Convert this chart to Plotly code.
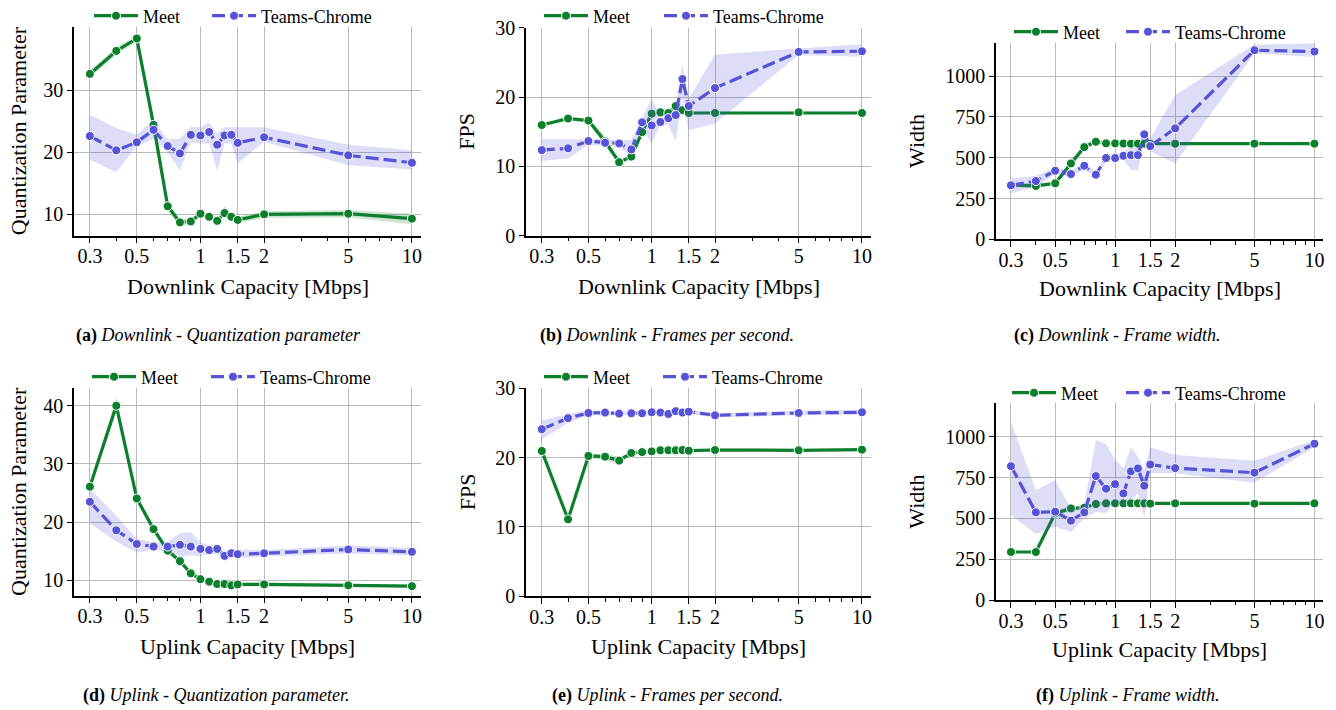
import plotly.graph_objects as go

# ---------------- data ----------------
CAPACITY = [0.3, 0.4, 0.5, 0.6, 0.7, 0.8, 0.9, 1.0, 1.1, 1.2, 1.3, 1.4, 1.5, 2, 5, 10]
X_TICKS = [0.3, 0.5, 1, 1.5, 2, 5, 10]
X_TICK_TEXT = ["0.3", "0.5", "1", "1.5", "2", "5", "10"]
X_MINOR = [0.4, 0.6, 0.7, 0.8, 0.9, 3, 4, 6, 7, 8, 9]
SERIES = ["Meet", "Teams-Chrome"]

# (a) Downlink - QP
DL_QP_MEET = [32.6, 36.3, 38.3, 24.4, 11.3, 8.7, 8.85, 10.1, 9.6, 8.95, 10.2, 9.6, 9.1, 10.0, 10.1, 9.3]
DL_QP_MEET_LO = [32.0, 35.7, 37.8, 22.6, 10.5, 8.2, 8.4, 9.7, 9.1, 8.6, 9.6, 9.1, 8.6, 9.4, 9.5, 8.4]
DL_QP_MEET_HI = [33.2, 36.9, 38.8, 25.8, 12.2, 9.2, 9.3, 10.5, 10.1, 9.3, 11.3, 10.1, 9.6, 10.5, 10.7, 10.1]
DL_QP_TEAMS = [22.6, 20.3, 21.6, 23.6, 21.0, 19.8, 22.8, 22.7, 23.25, 21.2, 22.7, 22.8, 21.5, 22.4, 19.5, 18.3]
DL_QP_TEAMS_LO = [18.8, 16.8, 20.9, 22.2, 20.0, 17.0, 21.7, 21.4, 21.4, 17.0, 21.4, 21.4, 18.2, 21.7, 17.9, 17.2]
DL_QP_TEAMS_HI = [26.0, 23.9, 22.8, 25.2, 22.0, 22.2, 24.1, 24.0, 24.8, 23.0, 24.0, 24.0, 24.0, 24.0, 21.2, 20.3]

# (b) Downlink - FPS
DL_FPS_MEET = [15.96, 16.9, 16.6, 13.6, 10.6, 11.4, 14.95, 17.6, 17.8, 17.7, 18.7, 18.1, 17.7, 17.7, 17.8, 17.7]
DL_FPS_MEET_LO = [15.7, 16.6, 16.3, 12.9, 10.3, 11.1, 14.6, 17.3, 17.5, 17.4, 18.3, 17.8, 17.5, 17.5, 17.6, 17.5]
DL_FPS_MEET_HI = [16.2, 17.2, 16.9, 14.4, 10.9, 11.7, 15.3, 17.9, 18.1, 18.0, 19.1, 18.4, 17.9, 17.9, 18.0, 17.9]
DL_FPS_TEAMS = [12.35, 12.6, 13.65, 13.4, 13.3, 12.45, 16.35, 15.9, 16.4, 16.95, 17.4, 22.6, 18.7, 21.3, 26.5, 26.6]
DL_FPS_TEAMS_LO = [10.8, 11.15, 13.1, 13.0, 12.8, 11.4, 15.5, 13.3, 16.0, 16.0, 13.6, 20.0, 15.2, 16.2, 26.05, 25.8]
DL_FPS_TEAMS_HI = [13.9, 13.9, 14.0, 13.9, 13.8, 13.8, 17.0, 19.8, 17.2, 17.8, 18.0, 24.7, 19.8, 26.1, 27.0, 27.6]

# (c) Downlink - Width
DL_W_MEET = [333, 327, 343, 465, 565, 598, 588, 588, 587, 586, 586, 586, 586, 586, 586, 586]
DL_W_MEET_LO = [318, 315, 330, 440, 545, 588, 578, 578, 578, 578, 578, 578, 578, 578, 578, 578]
DL_W_MEET_HI = [348, 340, 356, 490, 585, 608, 596, 596, 596, 594, 594, 594, 594, 594, 594, 594]
DL_W_TEAMS = [331, 357, 420, 400, 451, 396, 498, 498, 512, 516, 516, 643, 571, 680, 1159, 1151]
DL_W_TEAMS_LO = [282, 320, 400, 380, 430, 380, 470, 480, 490, 423, 423, 600, 540, 465, 1139, 1118]
DL_W_TEAMS_HI = [373, 390, 440, 420, 470, 410, 530, 520, 540, 560, 560, 680, 620, 884, 1194, 1200]

# (d) Uplink - QP
UL_QP_MEET = [26.1, 40.0, 24.06, 18.8, 15.1, 13.3, 11.2, 10.2, 9.77, 9.37, 9.37, 9.14, 9.3, 9.3, 9.14, 9.0]
UL_QP_MEET_LO = [25.6, 39.0, 23.5, 18.3, 14.7, 12.9, 10.9, 9.9, 9.5, 9.1, 9.1, 8.9, 9.0, 9.0, 8.9, 8.8]
UL_QP_MEET_HI = [26.6, 41.5, 24.6, 19.3, 15.5, 13.7, 11.5, 10.5, 10.0, 9.6, 9.6, 9.4, 9.6, 9.6, 9.4, 9.2]
UL_QP_TEAMS = [23.5, 18.6, 16.25, 15.8, 15.8, 16.1, 15.8, 15.4, 15.2, 15.4, 14.2, 14.65, 14.5, 14.65, 15.3, 14.9]
UL_QP_TEAMS_LO = [19.8, 16.65, 14.8, 15.2, 15.0, 14.1, 14.3, 14.2, 14.6, 14.5, 13.6, 14.0, 13.8, 14.1, 14.6, 14.3]
UL_QP_TEAMS_HI = [25.8, 21.1, 17.2, 16.5, 16.6, 18.1, 18.3, 16.5, 16.0, 16.3, 15.0, 15.5, 15.3, 15.2, 16.0, 15.6]

# (e) Uplink - FPS
UL_FPS_MEET = [20.96, 11.1, 20.24, 20.14, 19.57, 20.67, 20.8, 20.9, 21.06, 21.06, 21.06, 21.1, 21.0, 21.1, 21.06, 21.15]
UL_FPS_MEET_LO = [20.76, 10.8, 20.0, 19.6, 19.0, 20.45, 20.6, 20.7, 20.86, 20.86, 20.86, 20.9, 20.8, 20.9, 20.86, 20.95]
UL_FPS_MEET_HI = [21.16, 11.4, 20.45, 20.6, 20.1, 20.87, 21.0, 21.1, 21.26, 21.26, 21.26, 21.3, 21.2, 21.3, 21.26, 21.35]
UL_FPS_TEAMS = [24.1, 25.7, 26.44, 26.5, 26.35, 26.4, 26.4, 26.54, 26.5, 26.3, 26.7, 26.5, 26.63, 26.1, 26.44, 26.54]
UL_FPS_TEAMS_LO = [22.6, 25.0, 26.1, 26.2, 26.1, 26.1, 26.1, 26.2, 26.2, 26.0, 26.4, 26.2, 26.3, 25.8, 26.1, 26.2]
UL_FPS_TEAMS_HI = [25.4, 26.3, 26.8, 26.8, 26.6, 26.7, 26.7, 26.8, 26.8, 26.6, 27.0, 26.8, 26.9, 26.4, 26.8, 26.9]

# (f) Uplink - Width
UL_W_MEET = [294, 294, 531, 561, 565, 588, 592, 592, 592, 592, 592, 592, 590, 592, 590, 592]
UL_W_MEET_LO = [288, 288, 505, 545, 555, 580, 586, 586, 586, 586, 586, 586, 584, 586, 584, 586]
UL_W_MEET_HI = [300, 300, 550, 575, 575, 595, 598, 598, 598, 598, 598, 598, 596, 598, 596, 598]
UL_W_TEAMS = [820, 537, 541, 486, 537, 759, 682, 710, 653, 788, 806, 700, 830, 808, 780, 957]
UL_W_TEAMS_LO = [520, 404, 449, 418, 500, 541, 531, 600, 571, 612, 653, 510, 776, 776, 718, 935]
UL_W_TEAMS_HI = [1092, 673, 735, 560, 580, 980, 955, 857, 806, 935, 878, 796, 935, 888, 853, 980]

Y_TICKS_QP_DL = [10, 20, 30]
Y_TICKS_QP_UL = [10, 20, 30, 40]
Y_TICKS_FPS = [0, 10, 20, 30]
Y_TICKS_W = [0, 250, 500, 750, 1000]

CAPTIONS = [
    ("(a)", "Downlink - Quantization parameter"),
    ("(b)", "Downlink - Frames per second."),
    ("(c)", "Downlink - Frame width."),
    ("(d)", "Uplink - Quantization parameter."),
    ("(e)", "Uplink - Frames per second."),
    ("(f)", "Uplink - Frame width."),
]

# ---------------- styling / layout ----------------
W, H = 1336, 710
GREEN = "#0b7f2b"
BLUE = "#5753d6"
GREEN_BAND = "rgba(11,127,43,0.2)"
BLUE_BAND = "rgba(87,83,214,0.2)"
FONT = "Liberation Serif, serif"
TICK_SIZE = 20
TITLE_SIZE = 22
LEGEND_SIZE = 18


def fx(p):
    return p / W


def fy(p):
    return 1 - p / H


panels = [
    dict(meet=(DL_QP_MEET, DL_QP_MEET_LO, DL_QP_MEET_HI), teams=(DL_QP_TEAMS, DL_QP_TEAMS_LO, DL_QP_TEAMS_HI),
         px=(74, 421), py=(26.7, 235.7), yr=[6.56, 40.2], yt=Y_TICKS_QP_DL, ytitle="Quantization Parameter",
         xtitle="Downlink Capacity [Mbps]", ytx=18, xty=286, leg=(95, 213, 16), cap=(218, 335)),
    dict(meet=(DL_FPS_MEET, DL_FPS_MEET_LO, DL_FPS_MEET_HI), teams=(DL_FPS_TEAMS, DL_FPS_TEAMS_LO, DL_FPS_TEAMS_HI),
         px=(526, 871), py=(27.7, 235.7), yr=[0, 30], yt=Y_TICKS_FPS, ytitle="FPS",
         xtitle="Downlink Capacity [Mbps]", ytx=467, xty=286, leg=(545, 665, 16), cap=(667, 335)),
    dict(meet=(DL_W_MEET, DL_W_MEET_LO, DL_W_MEET_HI), teams=(DL_W_TEAMS, DL_W_TEAMS_LO, DL_W_TEAMS_HI),
         px=(996, 1323), py=(42.7, 239.3), yr=[0, 1205], yt=Y_TICKS_W, ytitle="Width",
         xtitle="Downlink Capacity [Mbps]", ytx=917, xty=288, leg=(1015, 1127, 32), cap=(1117, 335)),
    dict(meet=(UL_QP_MEET, UL_QP_MEET_LO, UL_QP_MEET_HI), teams=(UL_QP_TEAMS, UL_QP_TEAMS_LO, UL_QP_TEAMS_HI),
         px=(74, 421), py=(388.3, 595.7), yr=[7.36, 43.0], yt=Y_TICKS_QP_UL, ytitle="Quantization Parameter",
         xtitle="Uplink Capacity [Mbps]", ytx=18, xty=646, leg=(93, 212, 377), cap=(216, 695)),
    dict(meet=(UL_FPS_MEET, UL_FPS_MEET_LO, UL_FPS_MEET_HI), teams=(UL_FPS_TEAMS, UL_FPS_TEAMS_LO, UL_FPS_TEAMS_HI),
         px=(526, 871), py=(388.3, 596.3), yr=[0, 30], yt=Y_TICKS_FPS, ytitle="FPS",
         xtitle="Uplink Capacity [Mbps]", ytx=467, xty=646, leg=(545, 664, 377), cap=(667, 695)),
    dict(meet=(UL_W_MEET, UL_W_MEET_LO, UL_W_MEET_HI), teams=(UL_W_TEAMS, UL_W_TEAMS_LO, UL_W_TEAMS_HI),
         px=(996, 1323), py=(403.3, 600), yr=[0, 1205], yt=Y_TICKS_W, ytitle="Width",
         xtitle="Uplink Capacity [Mbps]", ytx=917, xty=649, leg=(1013, 1127, 393), cap=(1127, 695)),
]

fig = go.Figure()
annotations = []
layout = dict(
    width=W, height=H, margin=dict(l=0, r=0, t=0, b=0, autoexpand=False),
    paper_bgcolor="white", plot_bgcolor="white",
    font=dict(family=FONT, size=TICK_SIZE, color="black"),
    showlegend=True,
)

for i, p in enumerate(panels):
    n = i + 1
    sfx = "" if n == 1 else str(n)
    xa, ya = "x" + sfx, "y" + sfx
    for k, (name, (mean, lo, hi), col, band, dash) in enumerate((
        (SERIES[0], p["meet"], GREEN, GREEN_BAND, "solid"),
        (SERIES[1], p["teams"], BLUE, BLUE_BAND, "13px,5px"),
    )):
        li = 2 * i + k + 1
        leg = "legend" if li == 1 else "legend" + str(li)
        fig.add_trace(go.Scatter(
            x=CAPACITY + CAPACITY[::-1], y=hi + lo[::-1], fill="toself", fillcolor=band,
            line=dict(width=0), mode="lines", hoverinfo="skip", showlegend=False,
            xaxis=xa, yaxis=ya))
        fig.add_trace(go.Scatter(
            x=CAPACITY, y=mean, name=name, mode="lines+markers",
            line=dict(color=col, width=3.2, dash=dash),
            marker=dict(size=9, color=col, line=dict(color="white", width=1)),
            legend=leg, xaxis=xa, yaxis=ya))
        layout[leg] = dict(
            orientation="h", x=fx(p["leg"][k] - 6), xanchor="left", y=fy(p["leg"][2]), yanchor="middle",
            bgcolor="rgba(0,0,0,0)", font=dict(family=FONT, size=LEGEND_SIZE), itemwidth=44,
        )

    layout["xaxis" + sfx] = dict(
        type="log", domain=[fx(p["px"][0]), fx(p["px"][1])], range=[-0.598, 1.043],
        anchor=ya, tickvals=X_TICKS, ticktext=X_TICK_TEXT, ticks="outside", ticklen=6,
        tickwidth=1.2, tickcolor="black", showline=True, linecolor="black", linewidth=1.5,
        showgrid=True, gridcolor="#b9b9b9", gridwidth=1, zeroline=False, automargin=False,
        tickfont=dict(family=FONT, size=TICK_SIZE), ticklabelstandoff=-4,
        minor=dict(tickvals=X_MINOR, ticks="outside", ticklen=3.5, tickwidth=1, tickcolor="black", showgrid=False),
    )
    layout["yaxis" + sfx] = dict(
        domain=[fy(p["py"][1]), fy(p["py"][0])], range=p["yr"], anchor=xa,
        tickvals=p["yt"], ticks="outside", ticklen=5, tickwidth=1.2, tickcolor="black",
        showline=True, linecolor="black", linewidth=1.5, showgrid=True, gridcolor="#b9b9b9",
        gridwidth=1, zeroline=False, automargin=False, tickfont=dict(family=FONT, size=TICK_SIZE),
    )
    annotations.append(dict(
        text=p["xtitle"], x=fx((p["px"][0] + p["px"][1]) / 2), y=fy(p["xty"]), xref="paper", yref="paper",
        xanchor="center", yanchor="middle", showarrow=False, font=dict(family=FONT, size=TITLE_SIZE)))
    annotations.append(dict(
        text=p["ytitle"], x=fx(p["ytx"]), y=fy((p["py"][0] + p["py"][1]) / 2), xref="paper", yref="paper",
        xanchor="center", yanchor="middle", textangle=-90, showarrow=False, font=dict(family=FONT, size=TITLE_SIZE)))
    lab, cap = CAPTIONS[i]
    annotations.append(dict(
        text="<b>" + lab + "</b> <i>" + cap + "</i>", x=fx(p["cap"][0]), y=fy(p["cap"][1]),
        xref="paper", yref="paper", xanchor="center", yanchor="middle", showarrow=False,
        font=dict(family="Liberation Serif", size=18)))

layout["annotations"] = annotations
fig.update_layout(**layout)
fig.write_html("out.html")
